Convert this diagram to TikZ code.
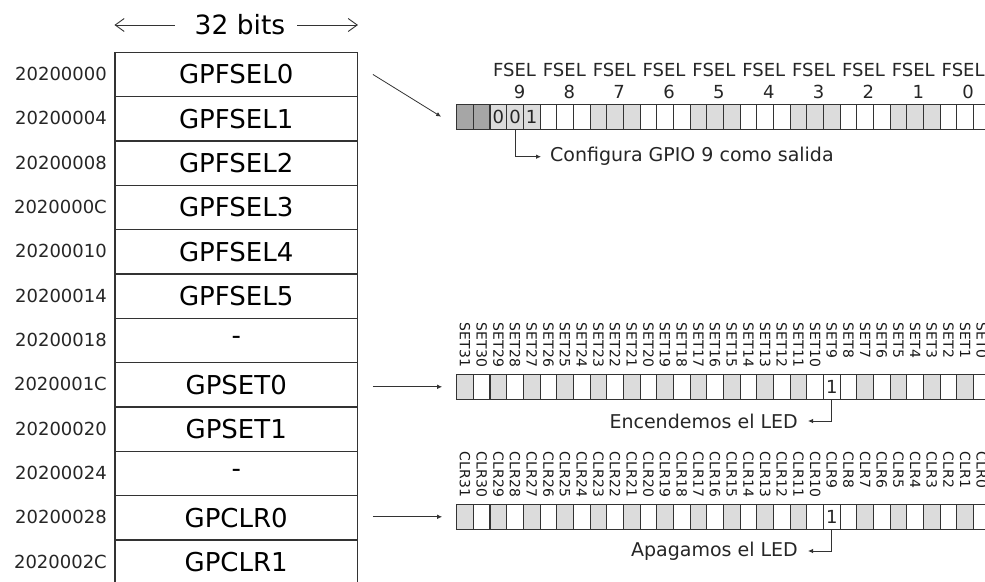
\documentclass[tikz,border=0pt]{standalone}
\usepackage{fontspec}
\setmainfont{DejaVu Sans}
\usepackage{tikz}
\usetikzlibrary{arrows.meta,calc}

\definecolor{inkgray}{HTML}{333333}
\definecolor{cellgray}{HTML}{DCDCDC}
\definecolor{celldark}{HTML}{A6A6A6}
\newcommand{\fsz}[1]{\fontsize{#1}{#1}\selectfont}

\begin{document}
\begin{tikzpicture}[x=1pt, y=-1pt,
  regrow/.style={draw=inkgray, line width=1.2pt, minimum width=242.3pt, minimum height=44.33pt, inner sep=0pt, anchor=north, font=\fsz{26}},
  addr/.style={anchor=east, inner sep=0pt, font=\fsz{18}, text=black!85},
  cell/.style={draw=inkgray, line width=1.1pt, minimum width=16.67pt, minimum height=24.7pt, inner sep=0pt},
  celltxt/.style={inner sep=0pt, font=\fsz{18}, text=black!85},
  bitlbl/.style={rotate=-90, anchor=west, inner sep=0pt, font=\fsz{14}, text=black!90},
  fsellbl/.style={inner sep=0pt, font=\fsz{18}, text=black!85},
  note/.style={inner sep=0pt, font=\fsz{19}, text=black!85},
  ptr/.style={-{Latex[length=5pt,width=4.5pt]}, line width=0.8pt, inkgray},
  span/.style={-{Straight Barb[length=9pt,width=13pt]}, line width=0.9pt, inkgray},
]
\fill[white] (0,0) rectangle (985,581);
\useasboundingbox (0,0) rectangle (985,581);
\clip (0,0) rectangle (985,581);

% === Register map ===
\foreach \nm/\ad [count=\k from 0] in {GPFSEL0/20200000, GPFSEL1/20200004, GPFSEL2/20200008,
    GPFSEL3/2020000C, GPFSEL4/20200010, GPFSEL5/20200014, -/20200018, GPSET0/2020001C,
    GPSET1/20200020, -/20200024, GPCLR0/20200028, GPCLR1/2020002C}{
  \node[regrow] (r\k) at (236.2, 51.7+44.33*\k) {\nm};
  \node[addr] (a\k) at (107, 73.87+44.33*\k) {\ad};
}

% Width label
\node[inner sep=0pt, font=\fsz{26.5}] (bits) at (240, 25) {32 bits};
\draw[span] ([xshift=-20pt]bits.west) -- (bits.west -| r0.west);
\draw[span] ([xshift=12pt]bits.east) -- (bits.east -| r0.east);

% === GPFSEL1 ===
\foreach \k in {0,...,31}{
  \pgfmathtruncatemacro\grp{mod(floor((\k+1)/3),2)}
  \ifnum\k<2 \def\cc{celldark}\else\ifnum\grp=1 \def\cc{cellgray}\else\def\cc{white}\fi\fi
  \node[cell, fill=\cc] (fs\k) at (465.03+16.67*\k, 116.7) {};
}
\node[celltxt] (fb2) at (fs2) {0};
\node[celltxt] (fb3) at (fs3) {0};
\node[celltxt] (fb4) at (fs4) {1};
\foreach \g in {0,...,9}{
  \node[fsellbl] (fl\g) at (514.5+49.85*9-49.85*\g, 70) {FSEL};
  \node[fsellbl] (fn\g) at (519.5+49.85*9-49.85*\g, 92) {\g};
}
\node[note, anchor=west] (cfg) at (550, 156.7) {Configura GPIO 9 como salida};

% === GPSET0 ===
\foreach \k in {0,...,31}{
  \pgfmathtruncatemacro\bit{31-\k}
  \pgfmathtruncatemacro\odd{mod(\k,2)}
  \ifnum\odd=0 \def\cc{cellgray}\else\def\cc{white}\fi
  \ifnum\k=22 \def\cc{white}\fi
  \node[cell, fill=\cc] (st\k) at (465.03+16.67*\k, 386.8) {};
  \node[bitlbl] (sl\k) at (465.03+16.67*\k, 322.7) {SET\bit};
}
\node[celltxt] (sb22) at (st22) {1};
\node[note, anchor=east] (ledon) at (798, 421) {Encendemos el LED};

% === GPCLR0 ===
\foreach \k in {0,...,31}{
  \pgfmathtruncatemacro\bit{31-\k}
  \pgfmathtruncatemacro\odd{mod(\k,2)}
  \ifnum\odd=0 \def\cc{cellgray}\else\def\cc{white}\fi
  \ifnum\k=22 \def\cc{white}\fi
  \node[cell, fill=\cc] (cl\k) at (465.03+16.67*\k, 516.8) {};
  \node[bitlbl] (cll\k) at (465.03+16.67*\k, 451.7) {CLR\bit};
}
\node[celltxt] (cb22) at (cl22) {1};
\node[note, anchor=east] (ledoff) at (798, 551) {Apagamos el LED};

% === Arrows ===
\draw[ptr] ([xshift=15pt]r0.east) -- ([xshift=-15pt]fs0.west);
\draw[ptr] ($(r7.east |- st0.west)+(15,0)$) -- ([xshift=-14pt]st0.west);
\draw[ptr] ($(r10.east |- cl0.west)+(15,0)$) -- ([xshift=-14pt]cl0.west);
\draw[ptr] (fs3.south) |- ([xshift=-9pt]cfg.west);
\draw[ptr] (st22.south) |- ([xshift=10pt]ledon.east);
\draw[ptr] (cl22.south) |- ([xshift=10pt]ledoff.east);

\end{tikzpicture}
\end{document}
